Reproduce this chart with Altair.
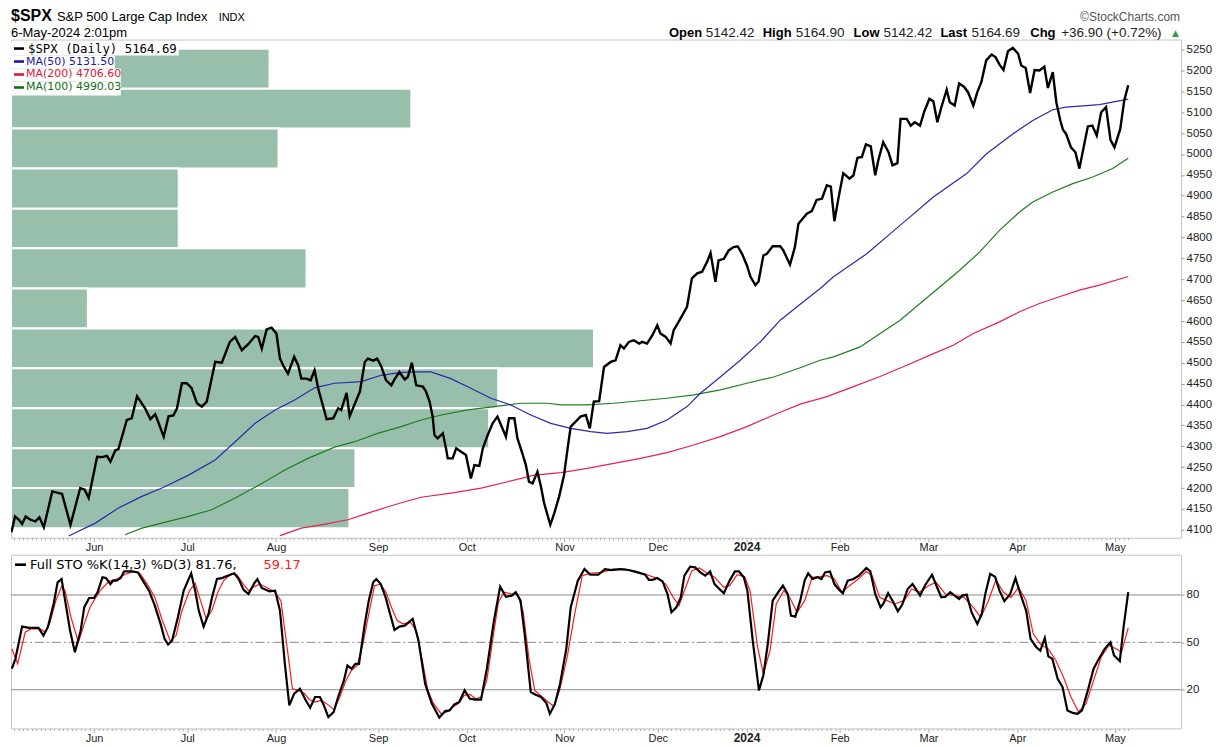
import altair as alt
import pandas as pd

# ---------------- data ----------------
month_names = ["Jun", "Jul", "Aug", "Sep", "Oct", "Nov", "Dec", "2024", "Feb", "Mar", "Apr", "May"]
month_days = [0, 21, 41, 64, 84, 106, 127, 147, 168, 188, 208, 230]   # trading-day index (1-Jun-2023 = 0)
trading_days = list(range(-18, 234))

price_ticks = list(range(4100, 5251, 50))
stoch_ticks = [20, 50, 80]

spx_day = [-18.6, -17.8, -16.9, -16.2, -15.4, -14.3, -13.2, -12.3, -11.3, -9.4, -7.9, -7.2, -5.3, -3.1, -2.1, -1.2,
           0.7, 1.8, 2.9, 3.7, 4.8, 5.5, 7.4, 8.5, 9.7, 11.5, 12.7, 13.8, 15.7, 16.8, 17.9, 18.7, 19.8, 20.9, 22.0,
           23.2, 24.3, 25.4, 27.3, 28.8, 30.6, 31.8, 33.3, 34.8, 36.3, 37.0, 37.8, 38.9, 40.0, 41.1, 41.9, 42.6,
           43.7, 45.1, 46.0, 46.7, 47.9, 48.8, 49.7, 50.5, 52.4, 53.9, 55.0, 55.7, 56.9, 57.6, 59.9, 61.0, 61.7,
           62.9, 63.8, 64.7, 65.8, 67.0, 67.7, 68.8, 70.0, 70.7, 71.6, 72.6, 74.1, 74.8, 75.6, 76.3, 76.7, 77.4,
           78.6, 79.3, 79.7, 80.8, 81.6, 82.7, 83.8, 84.9, 85.7, 86.8, 87.6, 88.7, 89.8, 90.9, 91.7, 92.8, 93.5,
           94.7, 95.4, 96.5, 97.3, 98.0, 98.8, 99.9, 100.7, 101.4, 102.8, 103.7, 104.8, 105.9, 106.7, 107.4, 108.5,
           109.6, 110.8, 111.7, 112.6, 113.8, 114.9, 116.4, 117.5, 118.6, 119.4, 120.5, 121.6, 122.8, 123.5, 124.6,
           125.8, 126.9, 127.6, 128.8, 129.9, 130.6, 131.7, 133.6, 134.7, 135.9, 137.0, 138.1, 138.9, 140.0, 140.7,
           141.9, 143.0, 144.1, 145.0, 146.0, 147.1, 147.9, 149.0, 149.7, 150.8, 151.6, 152.9, 154.6, 155.3, 156.8,
           157.9, 158.7, 160.6, 161.7, 162.8, 164.0, 165.1, 166.0, 166.8, 167.7, 168.8, 170.2, 171.1, 172.0, 173.0,
           173.9, 175.0, 176.0, 176.7, 177.8, 179.0, 179.9, 181.0, 181.7, 183.1, 184.0, 184.9, 186.1, 187.0, 188.2,
           189.1, 190.0, 190.9, 192.1, 192.8, 193.9, 194.9, 196.0, 196.9, 198.1, 199.0, 199.9, 201.0, 202.2, 203.1,
           204.0, 204.9, 205.9, 207.0, 208.2, 208.9, 209.9, 210.9, 211.9, 213.0, 214.1, 214.9, 216.0, 216.8, 217.7,
           218.3, 219.0, 220.1, 221.1, 222.0, 222.8, 223.9, 224.9, 225.9, 226.9, 228.0, 229.0, 229.9, 231.2, 232.1,
           233.0]
spx_close = [4094, 4132, 4124, 4114, 4132, 4124, 4120, 4130, 4106, 4192, 4188, 4186, 4112, 4200, 4196, 4176,
             4275, 4274, 4277, 4263, 4290, 4293, 4363, 4367, 4420, 4391, 4365, 4377, 4323, 4372, 4374, 4391, 4451,
             4451, 4439, 4403, 4395, 4407, 4502, 4500, 4550, 4562, 4530, 4545, 4564, 4562, 4534, 4580, 4584, 4570,
             4510, 4494, 4474, 4514, 4494, 4462, 4462, 4458, 4482, 4439, 4365, 4367, 4391, 4387, 4428, 4372, 4431,
             4502, 4510, 4505, 4510, 4492, 4458, 4446, 4460, 4478, 4460, 4466, 4500, 4446, 4443, 4431, 4407, 4371,
             4327, 4319, 4331, 4295, 4271, 4271, 4295, 4287, 4279, 4223, 4255, 4253, 4295, 4327, 4355, 4371, 4351,
             4323, 4367, 4367, 4319, 4283, 4255, 4215, 4211, 4239, 4203, 4164, 4112, 4140, 4180, 4231, 4295, 4347,
             4359, 4371, 4375, 4343, 4407, 4408, 4490, 4502, 4506, 4542, 4534, 4550, 4554, 4546, 4550, 4546, 4566,
             4590, 4570, 4562, 4546, 4578, 4598, 4634, 4702, 4714, 4718, 4741, 4763, 4694, 4745, 4749, 4769, 4777,
             4779, 4761, 4733, 4706, 4686, 4694, 4757, 4761, 4779, 4779, 4769, 4735, 4777, 4833, 4857, 4863, 4890,
             4893, 4925, 4922, 4839, 4893, 4954, 4941, 4949, 4991, 4993, 5023, 5018, 4949, 4985, 5028, 5004, 4973,
             4978, 5084, 5084, 5068, 5076, 5068, 5100, 5132, 5126, 5076, 5112, 5154, 5124, 5116, 5169, 5161, 5148,
             5116, 5148, 5172, 5224, 5238, 5232, 5214, 5201, 5246, 5254, 5240, 5212, 5206, 5146, 5201, 5200, 5209,
             5158, 5196, 5124, 5080, 5058, 5048, 5016, 5004, 4965, 5008, 5066, 5068, 5044, 5100, 5112, 5034, 5016,
             5060, 5128, 5164.69]

ma50_day = [-5.7, 0.3, 5.5, 10.8, 15.3, 21.3, 27.3, 31.8, 36.3, 40.8, 45.2, 49.7, 54.2, 60.2, 64.7, 69.2, 73.7,
            75.9, 80.4, 84.9, 89.4, 93.9, 98.4, 102.9, 107.4, 111.9, 115.6, 120.1, 124.6, 129.1, 133.6, 136.6,
            141.1, 145.6, 150.1, 154.6, 159.1, 163.6, 166.6, 174.1, 181.6, 189.1, 196.6, 201.0, 207.0, 211.5,
            216.0, 219.0, 226.5, 233.0]
ma50 = [4085, 4116, 4152, 4180, 4200, 4231, 4267, 4311, 4355, 4387, 4411, 4440, 4451, 4455, 4470, 4477, 4478,
        4478, 4462, 4439, 4415, 4399, 4375, 4355, 4343, 4335, 4331, 4335, 4343, 4363, 4395, 4427, 4466, 4506,
        4550, 4602, 4640, 4678, 4706, 4761, 4829, 4897, 4953, 5000, 5048, 5080, 5106, 5112, 5118, 5131.50]

ma100_day = [7.0, 10.8, 16.8, 21.3, 26.5, 31.8, 37.8, 43.0, 48.2, 54.2, 58.7, 63.9, 69.2, 73.7, 78.2, 84.2,
             90.2, 96.2, 102.2, 105.2, 111.1, 117.1, 123.1, 129.1, 135.1, 141.1, 147.1, 153.1, 159.1, 163.6,
             166.6, 172.6, 177.1, 181.6, 186.1, 190.6, 195.1, 199.5, 204.0, 208.5, 211.5, 216.0, 220.5, 225.0,
             229.5, 233.0]
ma100 = [4088, 4104, 4120, 4132, 4148, 4176, 4211, 4243, 4271, 4298, 4311, 4331, 4347, 4363, 4375, 4387,
         4395, 4403, 4403, 4399, 4399, 4403, 4409, 4415, 4423, 4435, 4451, 4466, 4488, 4506, 4514, 4538, 4570,
         4602, 4642, 4682, 4722, 4765, 4817, 4861, 4885, 4909, 4929, 4945, 4965, 4990.03]

ma200_day = [41.9, 46.7, 51.2, 57.2, 61.7, 67.7, 73.7, 81.2, 87.2, 93.2, 99.2, 105.2, 111.1, 117.1, 123.1,
             129.1, 135.1, 141.1, 147.1, 153.1, 159.1, 165.1, 171.1, 177.1, 183.1, 189.1, 193.6, 198.1, 204.0,
             208.5, 213.0, 217.5, 222.0, 226.5, 233.0]
ma200 = [4086, 4104, 4112, 4124, 4140, 4160, 4178, 4189, 4200, 4215, 4231, 4237, 4247, 4259, 4271, 4285, 4303,
         4323, 4347, 4375, 4401, 4419, 4443, 4467, 4494, 4522, 4542, 4570, 4598, 4622, 4642, 4658, 4674, 4686,
         4706.60]

# volume-by-price zones (price bands, top to bottom) and their relative volume
vbp_high = [5252, 5156, 5061, 4965, 4869, 4774, 4678, 4582, 4487, 4391, 4295, 4200]
vbp_low = [5156, 5061, 4965, 4869, 4774, 4678, 4582, 4487, 4391, 4295, 4200, 4104]
vbp_volume = [259, 401, 268, 168, 168, 296, 77, 584, 488, 479, 345, 339]

stk_day = [-18.5, -17.7, -16.2, -14.6, -12.5, -11.4, -10.4, -9.1, -8.2, -7.3, -6.5, -5.4, -4.3, -3.0, -2.2, -1.1,
           0.0, 0.8, 1.9, 2.7, 3.7, 4.3, 5.1, 6.0, 6.8, 8.6, 9.9, 11.1, 12.4, 13.7, 15.0, 15.9, 16.7, 17.6, 18.9,
           20.2, 21.0, 21.9, 22.8, 23.6, 24.7, 25.8, 26.6, 27.7, 28.8, 30.1, 31.6, 32.6, 33.7, 34.8, 36.1, 36.8,
           37.8, 39.5, 40.8, 41.9, 43.0, 44.0, 45.1, 46.4, 47.7, 48.7, 49.8, 50.9, 51.7, 52.8, 54.0, 55.0, 56.3,
           57.1, 58.0, 58.9, 59.7, 61.0, 61.9, 62.9, 63.6, 64.6, 65.7, 66.6, 67.7, 68.8, 70.0, 71.8, 73.1, 74.6,
           76.1, 77.8, 79.1, 80.1, 81.2, 82.3, 83.5, 84.7, 86.0, 87.2, 88.5, 90.1, 91.5, 92.8, 94.1, 95.0, 96.1,
           97.1, 98.4, 99.5, 100.7, 101.9, 102.7, 103.8, 105.0, 106.4, 107.4, 109.0, 110.5, 111.8, 113.6, 115.1,
           116.5, 118.7, 120.4, 122.5, 124.2, 125.0, 125.8, 126.9, 128.1, 129.2, 130.1, 131.2, 132.2, 133.0, 134.3,
           135.4, 136.6, 137.7, 138.8, 139.8, 141.1, 141.9, 143.2, 144.4, 145.3, 146.4, 147.2, 148.4, 149.8, 150.8,
           151.8, 152.9, 154.0, 155.2, 156.3, 157.0, 158.0, 159.1, 160.1, 160.9, 161.9, 163.0, 163.9, 164.7, 165.8,
           166.8, 167.9, 168.7, 169.8, 171.1, 172.3, 174.0, 174.9, 176.0, 177.2, 177.8, 178.9, 179.9, 181.1, 182.1,
           183.3, 184.4, 185.4, 186.1, 187.3, 188.8, 190.1, 190.9, 191.8, 192.9, 193.9, 194.9, 195.6, 196.6, 197.7,
           199.0, 200.0, 200.8, 201.9, 203.0, 204.0, 205.1, 206.4, 207.6, 208.7, 210.0, 211.0, 212.3, 213.2, 214.2,
           215.0, 215.9, 217.1, 218.2, 219.3, 220.5, 221.6, 222.6, 223.9, 225.2, 226.4, 227.7, 229.0, 229.8, 231.1,
           231.9, 233.0]
stk_k = [33.3, 39.6, 60.0, 59.2, 59.2, 54.3, 59.6, 74.3, 88.0, 90.1, 76.4, 57.5, 43.8, 57.5, 72.2, 78.1, 78.1,
         81.7, 91.2, 90.7, 86.9, 89.1, 89.1, 90.7, 94.9, 94.9, 94.3, 88.6, 82.7, 73.3, 61.7, 52.2, 48.6, 51.2, 65.9,
         82.7, 88.0, 93.7, 82.7, 70.1, 60.0, 68.0, 78.5, 90.1, 90.7, 92.2, 93.7, 90.1, 83.2, 80.6, 87.4, 90.1, 84.4,
         82.3, 82.7, 70.1, 36.4, 10.1, 17.5, 20.6, 13.3, 8.6, 15.4, 15.4, 10.7, 2.7, 5.9, 15.4, 25.9, 35.4, 33.3,
         36.4, 36.4, 61.7, 76.4, 88.0, 90.1, 86.9, 78.5, 69.1, 57.9, 60.0, 60.6, 64.8, 51.2, 23.8, 11.2, 2.3, 6.5,
         6.9, 10.7, 12.2, 19.6, 14.3, 13.7, 13.7, 33.3, 63.8, 85.3, 78.9, 79.6, 81.7, 76.4, 53.3, 18.5, 16.8, 15.4,
         11.6, 4.8, 10.7, 23.8, 45.9, 72.2, 89.1, 96.4, 92.8, 92.8, 96.4, 95.8, 96.4, 95.8, 94.3, 92.8, 89.5, 89.5,
         90.7, 88.6, 80.6, 69.1, 72.2, 78.5, 92.2, 97.9, 97.5, 94.3, 92.2, 94.9, 86.9, 83.2, 81.1, 89.1, 94.9, 94.9,
         91.2, 82.7, 51.2, 19.6, 29.1, 49.1, 76.4, 81.1, 85.9, 80.6, 66.9, 66.3, 76.4, 89.1, 93.7, 90.1, 91.2, 90.1,
         94.3, 94.9, 86.9, 83.2, 81.1, 89.1, 90.1, 92.2, 97.1, 94.9, 80.6, 72.2, 74.3, 81.1, 76.4, 69.7, 73.9, 83.8,
         86.9, 82.7, 79.6, 86.5, 92.8, 83.8, 78.5, 78.9, 81.7, 79.6, 77.5, 79.6, 80.2, 69.1, 61.7, 68.0, 80.6, 93.3,
         91.6, 82.7, 76.0, 80.6, 90.7, 80.6, 70.1, 52.2, 46.9, 44.8, 52.8, 41.1, 39.6, 26.9, 21.7, 6.9, 5.3, 4.8,
         6.9, 19.6, 33.3, 39.6, 45.9, 50.1, 41.7, 38.1, 58.5, 81.76]

std_day = [-18.5, -17.2, -15.5, -14.2, -12.1, -11.0, -9.9, -8.6, -7.3, -6.5, -5.2, -3.5, -2.2, -0.9, 0.4, 1.7,
           3.4, 5.1, 6.8, 9.0, 10.3, 12.0, 13.7, 15.4, 17.2, 18.5, 19.7, 21.5, 22.8, 24.0, 25.3, 26.6, 27.9, 29.2,
           30.9, 32.2, 33.5, 34.8, 36.1, 37.4, 39.1, 40.8, 42.1, 43.4, 44.7, 46.0, 47.3, 48.6, 49.8, 51.1, 52.4,
           54.1, 55.4, 56.7, 58.0, 59.3, 60.6, 61.9, 63.2, 64.5, 65.8, 67.0, 68.3, 69.6, 71.3, 72.6, 73.9, 75.2,
           76.5, 78.2, 79.5, 80.8, 82.1, 83.4, 84.7, 86.0, 87.2, 88.5, 89.8, 91.1, 92.4, 94.1, 95.4, 96.7, 98.0,
           99.3, 101.0, 102.3, 103.6, 104.9, 106.6, 108.3, 110.0, 111.8, 114.4, 116.9, 119.5, 122.0, 124.6, 126.7,
           128.8, 130.5, 131.8, 133.0, 134.7, 136.4, 138.1, 139.8, 141.9, 143.2, 144.9, 146.6, 147.8, 149.5, 150.8,
           152.3, 153.7, 155.4, 156.7, 158.4, 160.1, 161.8, 163.5, 165.2, 166.8, 168.5, 170.2, 171.9, 174.0, 175.3,
           177.0, 178.7, 180.4, 182.5, 184.2, 185.9, 188.0, 189.7, 191.8, 193.9, 196.0, 198.1, 199.8, 201.5, 203.2,
           204.9, 206.6, 208.3, 210.0, 211.6, 213.3, 215.0, 216.7, 218.4, 220.1, 221.8, 223.5, 225.2, 226.9, 228.6,
           230.3, 231.5, 233.0]
std_d = [45.9, 36.4, 56.4, 58.5, 58.5, 56.4, 62.7, 76.4, 85.3, 82.7, 65.9, 50.1, 61.7, 72.2, 78.5, 83.8, 88.6,
         90.1, 92.8, 94.9, 93.7, 86.9, 78.5, 63.8, 50.7, 54.3, 69.1, 82.7, 87.4, 76.4, 64.8, 70.5, 81.7, 89.1, 93.3,
         92.8, 87.4, 82.7, 85.3, 86.9, 84.4, 81.7, 76.4, 49.1, 20.6, 19.6, 17.9, 13.7, 12.2, 13.3, 11.2, 7.4, 15.4,
         25.5, 32.2, 35.4, 49.1, 68.0, 85.9, 86.9, 81.7, 72.2, 63.8, 61.7, 62.7, 57.5, 39.6, 19.6, 11.2, 4.8, 5.9,
         9.1, 11.2, 16.4, 17.1, 14.3, 15.4, 25.9, 51.2, 75.4, 81.7, 80.6, 80.6, 69.1, 39.6, 19.6, 15.4, 12.2, 9.5,
         19.6, 40.6, 68.0, 92.2, 93.7, 94.3, 96.4, 96.4, 94.9, 92.8, 90.7, 86.9, 78.5, 73.3, 82.7, 95.4, 97.1, 93.7,
         91.2, 84.8, 85.9, 92.8, 91.6, 82.7, 46.9, 30.1, 44.8, 74.3, 82.7, 78.5, 69.1, 76.4, 91.2, 91.6, 92.2, 90.1,
         81.7, 85.9, 89.5, 94.9, 92.2, 78.5, 76.4, 74.3, 76.4, 83.8, 81.7, 85.9, 88.0, 80.6, 79.6, 78.5, 72.2, 65.9,
         76.4, 89.5, 81.7, 78.5, 84.8, 76.4, 55.4, 48.6, 45.9, 38.5, 28.0, 15.4, 5.9, 11.2, 25.9, 40.6, 48.0, 45.9,
         43.8, 59.17]

# header / legend texts
title_symbol = "$SPX"
title_name = "S&P 500 Large Cap Index"
title_exchange = "INDX"
title_date = "6-May-2024 2:01pm"
brand = "\u00a9StockCharts.com"
quote_parts = [("Open", True), ("5142.42", False), ("High", True), ("5164.90", False), ("Low", True),
               ("5142.42", False), ("Last", True), ("5164.69", False), ("Chg", True), ("+36.90 (+0.72%)", False)]
legend_rows = [("$SPX (Daily) 5164.69", "#000000"), ("MA(50) 5131.50", "#1a1a9e"),
               ("MA(200) 4706.60", "#e0143c"), ("MA(100) 4990.03", "#127012")]
sto_label = "Full STO %K(14,3) %D(3) 81.76, "
sto_d_value = "59.17"

# ---------------- layout ----------------
W, H1, H2 = 1172, 499, 174
XDOM = [-18.7, 244.9]
YDOM1 = [4081, 5274]
YDOM2 = [-4.5, 105.5]
AXIS_FONT = "Liberation Sans"
LEG_FONT = "DejaVu Sans"

xs = alt.Scale(domain=XDOM, nice=False, zero=False)
ys1 = alt.Scale(domain=YDOM1, nice=False, zero=False)
ys2 = alt.Scale(domain=YDOM2, nice=False, zero=False)

days_js = "[" + ",".join(str(d) for d in month_days) + "]"
names_js = "[" + ",".join("'" + m + "'" for m in month_names) + "]"
is_month = f"indexof({days_js}, datum.value) >= 0"
label_expr = f"{is_month} ? {names_js}[indexof({days_js}, datum.value)] : ''"


def x_axis():
    return alt.Axis(values=trading_days, labelExpr=label_expr, labelOverlap=False, labelFlush=False,
                    labelFont=AXIS_FONT, labelColor="#222",
                    labelFontSize={"condition": {"test": "datum.value === 147", "value": 12}, "value": 11},
                    labelFontWeight={"condition": {"test": "datum.value === 147", "value": "bold"}, "value": "normal"},
                    labelPadding=0, tickColor="#aaaaaa",
                    tickSize={"condition": {"test": is_month, "value": 4}, "value": 2},
                    domain=False, grid=False, title=None)


def y_axis(vals):
    return alt.Axis(values=vals, orient="right", format="d", labelFont=AXIS_FONT, labelFontSize=11.5,
                    labelColor="#222", tickSize=3, tickColor="#999999", labelPadding=2, domain=False, grid=False,
                    title=None, labelOverlap=False, labelFlush=False)


one = alt.Data(values=[{}])


def txt(s, x, y, size=13, weight="normal", color="#000", font=AXIS_FONT, align="left", baseline="alphabetic"):
    return alt.Chart(one).mark_text(text=s, align=align, baseline=baseline, fontSize=size, fontWeight=weight,
                                    color=color, font=font).encode(x=alt.value(x), y=alt.value(y))


def box(x0, x1, y0, y1, color="white"):
    return alt.Chart(one).mark_rect(color=color).encode(x=alt.value(x0), x2=alt.value(x1),
                                                        y=alt.value(y0), y2=alt.value(y1))


def dash(x0, x1, y, color):
    return alt.Chart(one).mark_rule(color=color, strokeWidth=2.6).encode(x=alt.value(x0), x2=alt.value(x1),
                                                                        y=alt.value(y))


def line(days, vals, color, width, yscale, y_ax, x_ax=None):
    df = pd.DataFrame({"day": days, "v": vals})
    return alt.Chart(df).mark_line(color=color, strokeWidth=width, clip=True).encode(
        x=alt.X("day:Q", scale=xs, axis=x_ax),
        y=alt.Y("v:Q", scale=yscale, axis=y_ax))


# ---- top panel ----
ya1 = y_axis(price_ticks)
vbp_df = pd.DataFrame({"lo": vbp_low, "hi": vbp_high, "vol": vbp_volume})
vbp = alt.Chart(vbp_df).mark_rect(color="#98bfac", stroke="white", strokeWidth=2).encode(
    x=alt.X("vol:Q", scale=alt.Scale(domain=[0, W], nice=False, zero=True), axis=None),
    x2=alt.value(0),
    y=alt.Y("lo:Q", scale=ys1, axis=ya1), y2="hi:Q")

ma200_l = line(ma200_day, ma200, "#e8204f", 1.2, ys1, ya1)
ma100_l = line(ma100_day, ma100, "#1f7f1f", 1.2, ys1, ya1)
ma50_l = line(ma50_day, ma50, "#2a2aa8", 1.2, ys1, ya1)
price_l = line(spx_day, spx_close, "#000000", 2.4, ys1, ya1, x_ax=x_axis())

hdr = [
    txt(title_symbol, 0, -19, size=16, weight="bold"),
    txt(title_name, 46, -19, size=13),
    txt(title_exchange, 208, -19, size=11),
    txt(title_date, 0, -3, size=13),
    txt(brand, 1171, -19, size=12, color="#555555", align="right"),
]
qx = [659, 696, 753, 786, 844, 874, 931, 962, 1021, 1052]
for (s, b), x in zip(quote_parts, qx):
    hdr.append(txt(s, x, -3, size=13.5 if not b else 13, weight="bold" if b else "normal",
                   color="#000" if b else "#222"))
hdr.append(txt("\u25b2", 1163, -4, size=9, color="#2e9e3e", font=LEG_FONT))

leg = [box(0, 168, 2, 16), box(0, 104, 16, 29), box(0, 110, 29, 42), box(0, 110, 42, 56)]
for i, (s, c) in enumerate(legend_rows):
    yc = 9 + 13 * i
    leg.append(dash(3, 13, yc, c))
    if i == 0:
        leg.append(txt(s, 17, yc, size=12.4, color=c, font="DejaVu Sans Mono", baseline="middle"))
    else:
        leg.append(txt(s, 15, yc, size=11, color=c, font=LEG_FONT, baseline="middle"))

top = alt.layer(vbp, ma200_l, ma100_l, ma50_l, price_l, *leg, *hdr).resolve_scale(x="independent").properties(
    width=W, height=H1)

# ---- bottom panel ----
ya2 = y_axis(stoch_ticks)
solid = alt.Chart(pd.DataFrame({"v": [stoch_ticks[0], stoch_ticks[2]]})).mark_rule(
    color="#8a8a8a", strokeWidth=1).encode(y=alt.Y("v:Q", scale=ys2, axis=ya2))
mid = alt.Chart(pd.DataFrame({"v": [stoch_ticks[1]]})).mark_rule(
    color="#8a8a8a", strokeWidth=1, strokeDash=[9, 3, 2, 3]).encode(y=alt.Y("v:Q", scale=ys2, axis=ya2))
xa2 = x_axis()
d_l = line(std_day, std_d, "#ff1a1a", 1.2, ys2, ya2, x_ax=xa2)
k_l = line(stk_day, stk_k, "#000000", 2.2, ys2, ya2, x_ax=xa2)
sto_leg = [dash(4, 15, 10, "#000"),
           txt(sto_label, 19, 10, size=13, font=LEG_FONT, baseline="middle"),
           txt(sto_d_value, 253, 10, size=13, font=LEG_FONT, color="#ff1a1a", baseline="middle")]

bottom = alt.layer(solid, mid, d_l, k_l, *sto_leg).properties(width=W, height=H2)

chart = alt.vconcat(top, bottom, spacing=0).properties(
    padding={"left": 1, "top": -2, "right": 0, "bottom": 0}, background="white"
).configure_view(stroke="#c4c4c4", strokeWidth=1)

chart.save("out.html", embed_options={"renderer": "svg", "actions": False})
